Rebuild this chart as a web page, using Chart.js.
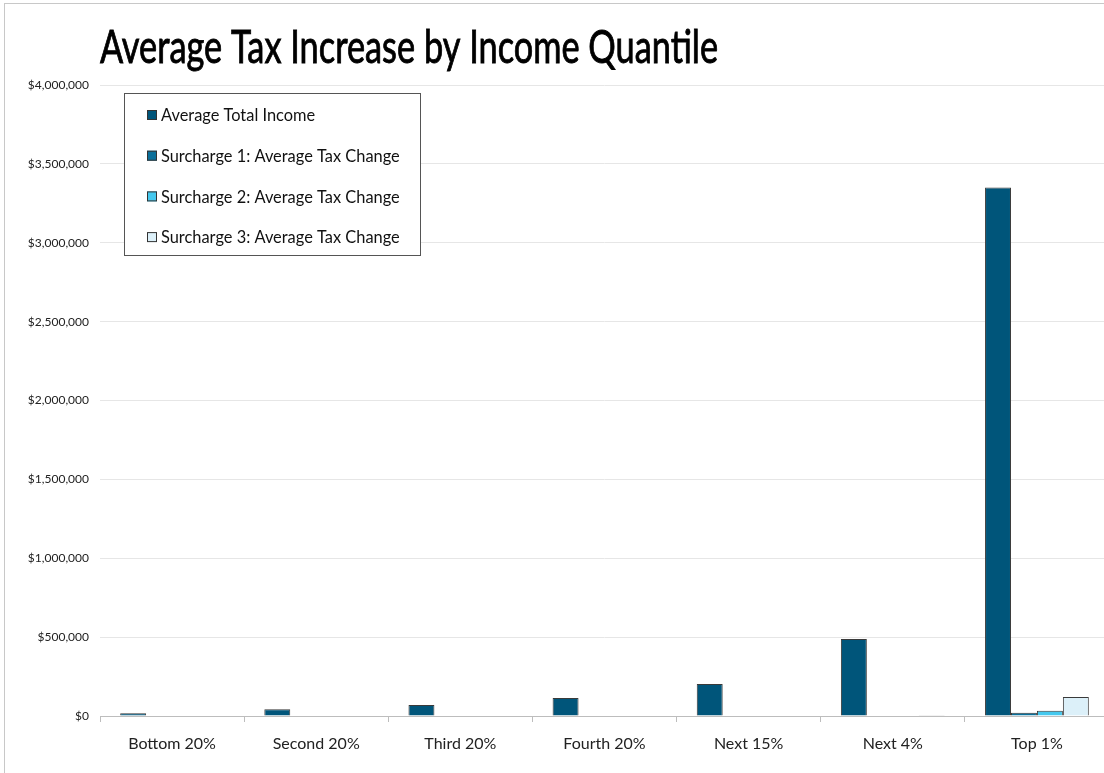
<!DOCTYPE html>
<html>
<head>
<meta charset="utf-8">
<script src="https://cdn.jsdelivr.net/npm/chart.js@4.4.1/dist/chart.umd.min.js"></script>
<style>
  html, body { margin: 0; padding: 0; background: #fff; overflow: hidden; width: 1104px; height: 773px; }
  #wrap { position: absolute; left: 0; top: 0; width: 1110px; height: 773px; }
  #frame { position: absolute; left: 4px; top: 3px; right: -10px; bottom: -10px; border-left: 1px solid #c8c8c8; border-top: 1px solid #c8c8c8; pointer-events: none; }
</style>
</head>
<body>
<div id="wrap"><canvas id="chart" width="1110" height="773"></canvas></div>
<div id="frame"></div>
<script>
const TITLE = "Average Tax Increase by Income Quantile";

const categories = ["Bottom 20%", "Second 20%", "Third 20%", "Fourth 20%", "Next 15%", "Next 4%", "Top 1%"];

const seriesNames = [
  "Average Total Income",
  "Surcharge 1: Average Tax Change",
  "Surcharge 2: Average Tax Change",
  "Surcharge 3: Average Tax Change",
];

const avgIncome = [17000, 42000, 70000, 114000, 203000, 488000, 3350000];
const surcharge1 = [0, 0, 0, 0, 0, 0, 21000];
const surcharge2 = [0, 0, 0, 0, 0, 0, 34000];
const surcharge3 = [0, 0, 0, 0, 0, 4000, 120000];

const seriesColors = ["#00557a", "#0a6f9a", "#44c8ee", "#dcf0f9"];

const yTicks = [0, 500000, 1000000, 1500000, 2000000, 2500000, 3000000, 3500000, 4000000];

const FONT = "Lato, 'Open Sans', sans-serif";

function money(v) {
  return "$" + Number(v).toLocaleString("en-US");
}

// title: regular weight with a thin stroke, squeezed to the original width
const titlePlugin = {
  id: "titleText",
  afterDraw(chart) {
    const ctx = chart.ctx;
    ctx.save();
    ctx.fillStyle = "#000";
    ctx.strokeStyle = "#000";
    ctx.lineWidth = 0.9;
    ctx.font = `46px ${FONT}`;
    ctx.textBaseline = "alphabetic";
    ctx.textAlign = "left";
    ctx.fillText(TITLE, 100, 63, 618);
    ctx.strokeText(TITLE, 100, 63, 618);
    ctx.restore();
  },
};

const boxLegend = {
  id: "boxLegend",
  afterDraw(chart) {
    const ctx = chart.ctx;
    ctx.save();
    ctx.fillStyle = "#fff";
    ctx.fillRect(124, 93, 296, 162);
    ctx.strokeStyle = "#555";
    ctx.lineWidth = 1;
    ctx.strokeRect(124.5, 93.5, 296, 162);
    ctx.font = `16.4px ${FONT}`;
    ctx.textBaseline = "middle";
    chart.data.datasets.forEach((ds, i) => {
      const y = 115 + i * 40.7;
      ctx.fillStyle = ds.backgroundColor;
      ctx.fillRect(147, y - 5, 10, 10);
      ctx.strokeStyle = "#333";
      ctx.strokeRect(147.5, y - 4.5, 9, 9);
      ctx.fillStyle = "#111";
      ctx.fillText(ds.label, 161, y + 1);
    });
    ctx.restore();
  },
};

const seriesData = [avgIncome, surcharge1, surcharge2, surcharge3];

new Chart(document.getElementById("chart"), {
  type: "bar",
  data: {
    labels: categories,
    datasets: seriesNames.map((name, i) => ({
      label: name,
      data: seriesData[i],
      backgroundColor: seriesColors[i],
      borderColor: "#3a3a3a",
      borderWidth: 1,
      categoryPercentage: 0.72,
      barPercentage: 1.0,
    })),
  },
  options: {
    responsive: false,
    animation: false,
    devicePixelRatio: 1,
    layout: { padding: { top: 85, right: 1, left: 0, bottom: 0 } },
    plugins: {
      legend: { display: false },
      title: { display: false },
      tooltip: { enabled: false },
    },
    scales: {
      x: {
        grid: {
          display: true,
          drawOnChartArea: false,
          drawTicks: true,
          tickLength: 6,
          color: "#bdbdbd",
          offset: true,
        },
        border: { display: true, color: "#bdbdbd" },
        ticks: { color: "#222", font: { family: FONT, size: 16 }, padding: 12 },
        afterFit: (s) => { s.height = 57; },
      },
      y: {
        min: 0,
        max: 4000000,
        afterBuildTicks: (s) => { s.ticks = yTicks.map((v) => ({ value: v })); },
        grid: { color: "#e6e6e6", drawTicks: false },
        border: { display: false },
        ticks: {
          color: "#222",
          font: { family: FONT, size: 12 },
          padding: 11,
          callback: (v) => money(v),
        },
        afterFit: (s) => { s.width = 100; },
      },
    },
  },
  plugins: [titlePlugin, boxLegend],
});
</script>
</body>
</html>
